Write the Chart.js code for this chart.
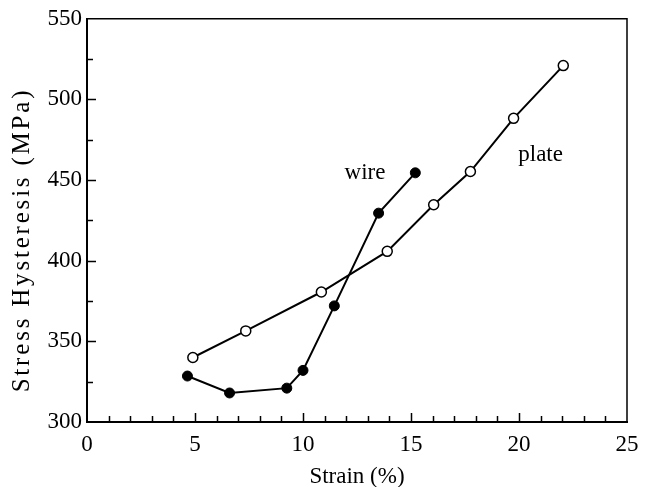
<!DOCTYPE html>
<html>
<head>
<meta charset="utf-8">
<script src="https://cdn.jsdelivr.net/npm/chart.js@4"></script>
<style>
  body { margin: 0; background: #fff; }
  canvas { display: block; }
</style>
</head>
<body>
<canvas id="myChart" width="651" height="487"></canvas>
<script>
// Daten
const strainPlate = [4.9, 7.35, 10.85, 13.9, 16.05, 17.75, 19.75, 22.05];
const stressPlate = [340, 356.5, 380.6, 405.8, 434.7, 455.3, 488.3, 521];
const strainWire = [4.65, 6.6, 9.25, 10.0, 11.45, 13.5, 15.2];
const stressWire = [328.5, 318, 321, 332, 372, 429.5, 454.5];

const xTickLabels = [0, 5, 10, 15, 20, 25];
const yTickLabels = [300, 350, 400, 450, 500, 550];

const seriesLabels = ['plate', 'wire'];
const xTitle = 'Strain (%)';
const yTitle = 'Stress Hysteresis (MPa)';

function toPoints(xs, ys) {
    return xs.map((x, i) => ({ x: x, y: ys[i] }));
}

Chart.defaults.font.family = "'Liberation Serif', 'Times New Roman', serif";
Chart.defaults.color = '#000';

// Rahmen, innere Ticks, Achsentitel und Beschriftungen
const decorations = {
    id: 'decorations',
    afterDraw(chart) {
        const ctx = chart.ctx;
        const a = chart.chartArea;
        const xs = chart.scales.x;
        const ys = chart.scales.y;
        ctx.save();
        ctx.strokeStyle = '#000';

        // obere und rechte Linie
        ctx.lineWidth = 1.5;
        ctx.beginPath();
        ctx.moveTo(a.left, a.top);
        ctx.lineTo(a.right, a.top);
        ctx.lineTo(a.right, a.bottom);
        ctx.stroke();

        // Ticks nach innen
        ctx.lineWidth = 1.5;
        ctx.beginPath();
        for (let v = xTickLabels[0] + 1; v < xTickLabels[xTickLabels.length - 1]; v++) {
            const px = Math.round(xs.getPixelForValue(v)) + 0.5;
            const len = v % 5 === 0 ? 9 : 6;
            ctx.moveTo(px, a.bottom);
            ctx.lineTo(px, a.bottom - len);
        }
        for (let v = yTickLabels[0] + 25; v < yTickLabels[yTickLabels.length - 1]; v += 25) {
            const py = Math.round(ys.getPixelForValue(v)) + 0.5;
            const len = v % 50 === 0 ? 9 : 6;
            ctx.moveTo(a.left, py);
            ctx.lineTo(a.left + len, py);
        }
        ctx.stroke();

        // y-Achsentitel
        ctx.fillStyle = '#000';
        ctx.font = "25px 'Liberation Serif'";
        ctx.textAlign = 'center';
        ctx.textBaseline = 'middle';
        ctx.translate(22, 240);
        ctx.rotate(-Math.PI / 2);
        ctx.letterSpacing = '2.8px';
        ctx.fillText(yTitle, 0, 0);
        ctx.restore();

        // Serienbeschriftungen
        ctx.save();
        ctx.fillStyle = '#000';
        ctx.font = "23px 'Liberation Serif'";
        ctx.textAlign = 'center';
        ctx.textBaseline = 'middle';
        ctx.fillText(seriesLabels[1], xs.getPixelForValue(12.87), ys.getPixelForValue(454.5));
        ctx.fillText(seriesLabels[0], xs.getPixelForValue(21.0), ys.getPixelForValue(465.5));
        ctx.restore();
    }
};

new Chart(document.getElementById('myChart'), {
    type: 'scatter',
    data: {
        datasets: [{
            label: seriesLabels[1],
            data: toPoints(strainWire, stressWire),
            showLine: true,
            borderColor: '#000',
            borderWidth: 2,
            backgroundColor: '#000',
            pointBackgroundColor: '#000',
            pointBorderColor: '#000',
            pointBorderWidth: 1,
            pointRadius: 5,
            clip: false
        }, {
            label: seriesLabels[0],
            data: toPoints(strainPlate, stressPlate),
            showLine: true,
            borderColor: '#000',
            borderWidth: 2,
            backgroundColor: '#fff',
            pointBackgroundColor: '#fff',
            pointBorderColor: '#000',
            pointBorderWidth: 1.5,
            pointRadius: 5,
            clip: false
        }]
    },
    options: {
        responsive: false,
        animation: false,
        devicePixelRatio: 1,
        layout: { padding: { top: 17, right: 24, left: 0, bottom: 0 } },
        plugins: {
            legend: { display: false },
            tooltip: { enabled: false }
        },
        scales: {
            x: {
                type: 'linear',
                min: xTickLabels[0],
                max: xTickLabels[xTickLabels.length - 1],
                afterBuildTicks: (scale) => { scale.ticks = xTickLabels.map(v => ({ value: v })); },
                afterFit: (scale) => { scale.height = 65; },
                grid: { display: true, drawOnChartArea: false, drawTicks: false },
                border: { display: true, color: '#000', width: 2 },
                ticks: { padding: 9, font: { size: 23 }, color: '#000', maxRotation: 0 },
                title: { display: true, text: xTitle, font: { size: 23 }, color: '#000', padding: { top: 0, bottom: -4 } }
            },
            y: {
                type: 'linear',
                min: yTickLabels[0],
                max: yTickLabels[yTickLabels.length - 1],
                afterBuildTicks: (scale) => { scale.ticks = yTickLabels.map(v => ({ value: v })); },
                afterFit: (scale) => { scale.width = 87; },
                grid: { display: true, drawOnChartArea: false, drawTicks: false },
                border: { display: true, color: '#000', width: 2 },
                ticks: { padding: 5, font: { size: 23 }, color: '#000' }
            }
        }
    },
    plugins: [decorations]
});
</script>
</body>
</html>
